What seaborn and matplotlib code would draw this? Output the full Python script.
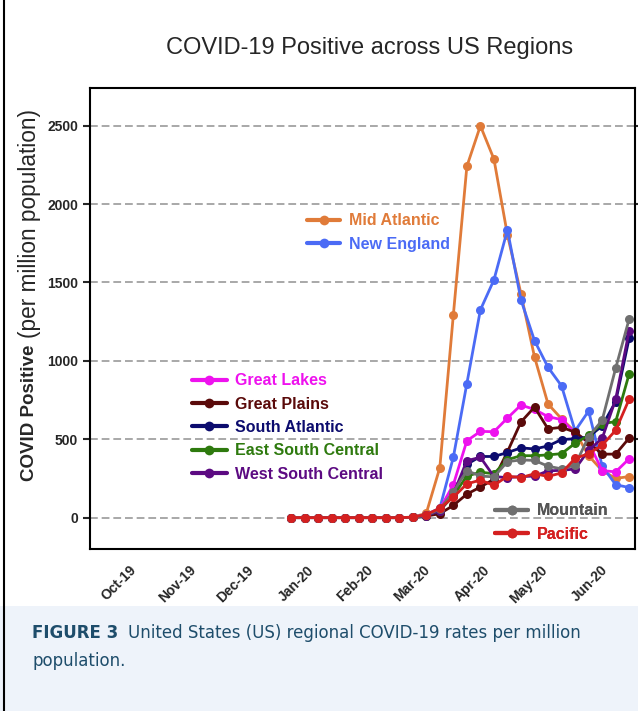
import pandas as pd
import matplotlib
matplotlib.use("Agg")
import matplotlib.pyplot as plt
from matplotlib.lines import Line2D
from matplotlib.patches import Rectangle
import seaborn as sns

# weekly counts, per million population
weeks = pd.date_range('2019-12-24', periods=26, freq='7D')
zeros = [0] * 9
mid_atlantic = zeros + [3, 28, 318, 1292, 2240, 2499, 2287, 1803, 1427, 1025, 725, 630, 548, 395, 300, 250, 262]
new_england = zeros + [2, 20, 60, 385, 855, 1325, 1516, 1835, 1389, 1129, 959, 840, 553, 680, 330, 210, 192]
great_lakes = zeros + [2, 18, 55, 210, 490, 550, 548, 635, 718, 690, 644, 625, 540, 480, 300, 292, 376]
great_plains = zeros + [1, 10, 25, 78, 150, 195, 245, 420, 610, 705, 566, 576, 545, 480, 405, 405, 508]
south_atlantic = zeros + [2, 15, 50, 150, 340, 390, 390, 415, 445, 438, 457, 498, 503, 515, 585, 740, 1146]
east_south_central = zeros + [1, 12, 45, 140, 265, 290, 280, 370, 395, 395, 400, 408, 474, 525, 600, 612, 918]
west_south_central = zeros + [1, 12, 45, 150, 363, 385, 262, 255, 262, 265, 298, 302, 310, 430, 505, 755, 1193]
mountain = zeros + [2, 15, 55, 165, 300, 265, 260, 357, 368, 365, 328, 311, 335, 516, 621, 953, 1268]
pacific = zeros + [3, 20, 60, 130, 215, 240, 205, 265, 255, 280, 263, 285, 378, 408, 462, 557, 756]

regions = ['Mid Atlantic', 'New England', 'Great Lakes', 'Great Plains', 'South Atlantic',
           'East South Central', 'West South Central', 'Mountain', 'Pacific']
series = [mid_atlantic, new_england, great_lakes, great_plains, south_atlantic,
          east_south_central, west_south_central, mountain, pacific]
palette = {
    'Mid Atlantic': '#E07B39',
    'New England': '#4B6BF5',
    'Great Lakes': '#EE12EE',
    'Great Plains': '#5A0A0A',
    'South Atlantic': '#0C0C6E',
    'East South Central': '#2E7A0E',
    'West South Central': '#5C0A82',
    'Mountain': '#707070',
    'Pacific': '#D42020',
}
label_colors = dict(palette, Mountain='#555555')

month_ticks = pd.date_range('2019-10-01', '2020-06-01', freq='MS')
y_ticks = [0, 500, 1000, 1500, 2000, 2500]

df = pd.DataFrame({
    'week': list(weeks) * len(regions),
    'value': [v for s in series for v in s],
    'region': [r for r in regions for _ in weeks],
})

sns.set_style('white')
plt.rcParams['font.family'] = ['Liberation Sans', 'DejaVu Sans']

fig = plt.figure(figsize=(6.38, 7.11), dpi=100)
ax = fig.add_axes([90 / 638, 1 - 549 / 711, 545 / 638, 461 / 711])

ax.yaxis.grid(True, linestyle=(0, (4, 2)), color='#A8A8A8', linewidth=1.4)
ax.set_axisbelow(True)

sns.lineplot(data=df, x='week', y='value', hue='region', hue_order=regions,
             palette=palette, marker='o', markersize=6.5, markeredgewidth=0,
             linewidth=2, legend=False, ax=ax)

ax.set_xlim(pd.Timestamp('2019-09-11'), pd.Timestamp('2020-06-19'))
ax.set_ylim(-200, 2740)
ax.set_xticks(month_ticks, labels=[m.strftime('%b-%y') for m in month_ticks],
              rotation=45, ha='right', rotation_mode='anchor', fontweight='bold')
ax.set_yticks(y_ticks, labels=[str(v) for v in y_ticks], fontweight='bold')
ax.tick_params(axis='x', direction='out', length=7, width=1.5, labelsize=10, pad=3)
ax.tick_params(axis='y', left=True, right=True, direction='out', length=5, width=1.5, labelsize=10)
ax.set_xlabel('')
ax.set_ylabel('')
for sp in ax.spines.values():
    sp.set_color('black')
    sp.set_linewidth(1.5)


def add_legend(names, anchor, hl, tp):
    handles = [Line2D([0], [0], color=palette[n], lw=3, marker='o', ms=7, mew=0) for n in names]
    leg = ax.legend(handles, names, loc='upper left', bbox_to_anchor=anchor, frameon=False,
                    handlelength=hl, handletextpad=tp, labelspacing=0.52, borderpad=0,
                    borderaxespad=0, prop={'weight': 'bold', 'size': 11.5})
    for t, n in zip(leg.get_texts(), names):
        t.set_color(label_colors[n])
    ax.add_artist(leg)


add_legend(regions[:2], (0.398, 0.728), 2.1, 0.55)
add_legend(regions[2:7], (0.187, 0.381), 2.2, 0.5)
add_legend(regions[7:], (0.743, 0.099), 2.1, 0.5)

# title and y label
fig.text(370 / 638, 1 - 48 / 711, 'COVID-19 Positive across US Regions', ha='center', va='center', fontsize=17)
yl = fig.text(30 / 638, 1 - 481 / 711, 'COVID Positive', rotation=90, fontsize=13.5,
              fontweight='bold', ha='center', va='bottom')
ax.annotate('(per million population)', xy=(0.5, 1), xycoords=yl, xytext=(0, 5),
            textcoords='offset points', rotation=90, ha='center', va='bottom', fontsize=16.3)

# caption band
fig.patches.append(Rectangle((0, 0), 1, 1 - 606 / 711, transform=fig.transFigure,
                             facecolor='#EEF3FA', edgecolor='none', zorder=-1))
cap_color = '#1E4D6B'
c1 = fig.text(32 / 638, 1 - 633 / 711, 'FIGURE 3', fontsize=12, fontweight='bold',
              color=cap_color, va='center', family=['DejaVu Sans'])
ax.annotate('United States (US) regional COVID-19 rates per million', xy=(1, 0.5), xycoords=c1,
            xytext=(7, 0), textcoords='offset points', va='center', ha='left', fontsize=12,
            color=cap_color, family=['DejaVu Sans'])
fig.text(32 / 638, 1 - 661 / 711, 'population.', fontsize=12, color=cap_color, va='center',
         family=['DejaVu Sans'])
fig.add_artist(Line2D([0.006, 0.006], [0, 1], transform=fig.transFigure, color='black', lw=1.5))

fig.savefig('out.png', dpi=100)
